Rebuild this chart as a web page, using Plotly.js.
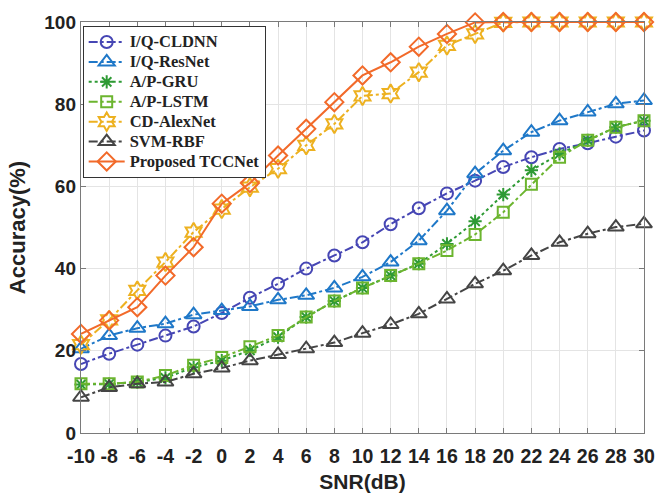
<!DOCTYPE html>
<html>
<head>
<meta charset="utf-8">
<script src="https://cdn.plot.ly/plotly-3.0.1.min.js"></script>
<style>
html,body{margin:0;padding:0;background:#fff;}
#chart{width:655px;height:493px;}
.legendtext{font-size:16.5px !important;}
</style>
</head>
<body>
<div id="chart"></div>
<script>
const snr = [-10,-8,-6,-4,-2,0,2,4,6,8,10,12,14,16,18,20,22,24,26,28,30];
const seriesNames = ["I/Q-CLDNN","I/Q-ResNet","A/P-GRU","A/P-LSTM","CD-AlexNet","SVM-RBF","Proposed TCCNet"];
const cldnn   = [16.8,19.3,21.5,23.7,25.9,29.2,32.9,36.3,40.0,43.2,46.4,50.8,54.7,58.3,61.4,64.7,67.1,69.1,70.5,72.1,73.6];
const resnet  = [20.5,23.7,25.5,26.6,28.8,29.8,30.8,32.4,33.5,35.3,38.0,41.6,46.8,54.1,63.1,68.7,73.2,76.0,78.1,80.1,80.9];
const gru     = [11.8,11.9,12.4,13.4,16.0,17.6,20.1,23.3,28.2,32.1,35.3,38.3,41.2,46.0,51.5,58.0,63.9,67.9,71.2,74.4,76.0];
const lstm    = [12.0,12.0,12.4,14.0,16.5,18.4,21.0,23.7,28.2,32.1,35.3,38.3,41.2,44.4,48.3,53.7,60.5,67.1,71.2,74.4,76.0];
const alexnet = [21.5,27.5,34.7,41.6,48.9,54.5,59.8,64.3,70.0,75.2,82.0,82.6,87.8,94.3,97.1,99.9,100,100,100,100,100];
const svm     = [8.7,11.1,12.0,12.4,14.4,15.8,17.6,19.1,20.5,22.0,24.3,26.4,29.0,32.6,36.3,39.5,43.2,46.4,48.5,50.1,50.9];
const tcc     = [24.1,27.4,30.6,38.3,45.2,55.8,60.8,67.5,74.0,80.5,87.0,90.2,94.0,97.1,99.9,100,100,100,100,100,100];

const values = [cldnn, resnet, gru, lstm, alexnet, svm, tcc];
const colors = ["#4646b4","#1f78c8","#2e9a34","#6cb52f","#edb120","#454545","#f26a2a"];
const dashes = ["dashdot","dashdot","dot","dashdot","dashdot","dashdot","solid"];
const symbols = ["circle-open","triangle-up-open","asterisk-open","square-open","hexagram-open","triangle-up-open","diamond-open"];
const sizes = [12,14,11,11,14,14,14];

const traces = values.map((v,i)=>({
  x: snr, y: v, name: seriesNames[i], type: "scatter", mode: "lines+markers",
  cliponaxis: false,
  line: {color: colors[i], width: 2, dash: dashes[i]},
  marker: {symbol: symbols[i], size: sizes[i], color: colors[i], line: {color: colors[i], width: 2}}
}));

const axisCommon = {
  showline: true, linecolor: "#7a7a7a", linewidth: 1.2, mirror: "ticks",
  ticks: "inside", ticklen: 5, tickcolor: "#7a7a7a",
  showgrid: true, gridcolor: "#e4e4e4", gridwidth: 1, zeroline: false
};

const layout = {
  width: 655, height: 493,
  margin: {l: 81, r: 11, t: 22, b: 60},
  paper_bgcolor: "#fff", plot_bgcolor: "#fff",
  showlegend: true,
  legend: {
    x: 0.003, y: 0.99, xanchor: "left", yanchor: "top",
    bgcolor: "#fff", bordercolor: "#333", borderwidth: 1,
    font: {family: "Liberation Serif", size: 13, color: "#222", weight: "bold"},
    tracegroupgap: 0, itemwidth: 36
  },
  xaxis: Object.assign({}, axisCommon, {
    range: [-10, 30], tickmode: "array", tickvals: snr, ticktext: snr.map(String),
    ticklabeloverflow: "allow", ticklabelstandoff: 5,
    tickfont: {family: "Liberation Sans", size: 19.5, color: "#222", weight: "bold"},
    title: {text: "SNR(dB)", font: {family: "Liberation Sans", size: 21, color: "#222", weight: "bold"}, standoff: 10}
  }),
  yaxis: Object.assign({}, axisCommon, {
    range: [0, 100], dtick: 20,
    tickfont: {family: "Liberation Sans", size: 19, color: "#222", weight: "bold"},
    title: {text: "Accuracy(%)", font: {family: "Liberation Sans", size: 22, color: "#222", weight: "bold"}, standoff: 12}
  })
};

Plotly.newPlot("chart", traces, layout, {displayModeBar: false, staticPlot: true});
</script>
</body>
</html>
